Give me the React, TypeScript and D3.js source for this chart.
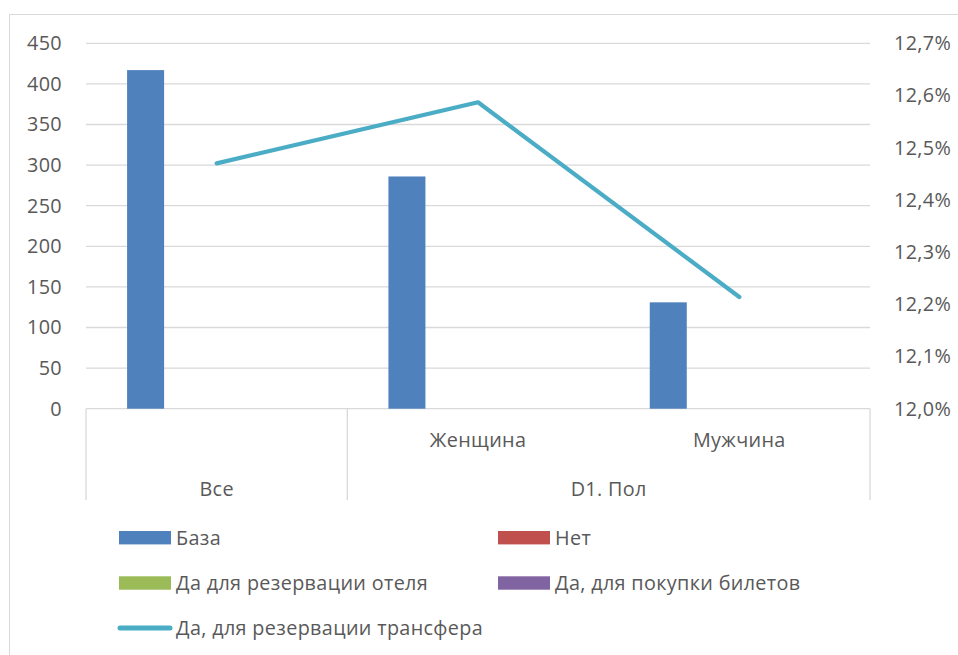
import React from "react";
import * as d3 from "d3";

const categories = ["Все", "Женщина", "Мужчина"];
const groupLabels = ["Все", "D1. Пол"];
const groupSpans = [1, 2];
const subLabels = ["", "Женщина", "Мужчина"];
const baseValues = [417, 286, 131];
const transferValues = [0.1247, 0.12587, 0.12214];
const leftTicks = [0, 50, 100, 150, 200, 250, 300, 350, 400, 450];
const rightTicks = [0.12, 0.121, 0.122, 0.123, 0.124, 0.125, 0.126, 0.127];
const barSeries = ["База", "Нет", "Да для резервации отеля", "Да, для покупки билетов", "slot5"];
const legendItems = [
  { name: "База", color: "#4F81BD", type: "bar" },
  { name: "Нет", color: "#C0504D", type: "bar" },
  { name: "Да для резервации отеля", color: "#9BBB59", type: "bar" },
  { name: "Да, для покупки билетов", color: "#8064A2", type: "bar" },
  { name: "Да, для резервации трансфера", color: "#4BACC6", type: "line" },
];

const W = 958;
const H = 655;
const m = { left: 86, right: 870, top: 43.3, bottom: 408.7 };
const FONT = "'Open Sans', Lato, sans-serif";
const TXT = "#595959";
const FS = 19.8;
const LS = 0.35;

export default function App() {
  const x = d3.scaleBand<string>().domain(categories).range([m.left, m.right]).padding(0);
  const bw = x.bandwidth();
  const slotW = bw / 7.06;
  const sub = d3
    .scaleBand<string>()
    .domain(barSeries)
    .range([bw / 2 - 2.42 * slotW, bw / 2 + 2.58 * slotW])
    .padding(0);
  const yL = d3.scaleLinear().domain([0, 450]).range([m.bottom, m.top]);
  const yR = d3.scaleLinear().domain([0.12, 0.127]).range([m.bottom, m.top]);
  const fmtR = (v: number) => (v * 100).toFixed(1).replace(".", ",") + "%";

  const line = d3
    .line<number>()
    .x((_, i) => (x(categories[i]) as number) + bw / 2)
    .y((d) => yR(d));

  const seps: number[] = [m.left];
  let acc = 0;
  groupSpans.forEach((s) => {
    acc += s;
    seps.push(m.left + acc * bw);
  });
  const groupCenters: number[] = [];
  acc = 0;
  groupSpans.forEach((s) => {
    groupCenters.push(m.left + (acc + s / 2) * bw);
    acc += s;
  });

  const legendPos = [
    { x: 119, y: 537.7 },
    { x: 498, y: 537.7 },
    { x: 119, y: 583 },
    { x: 498, y: 583 },
    { x: 119, y: 628 },
  ];

  return (
    <svg width={W} height={H} style={{ position: "absolute", left: 0, top: 0, fontFamily: FONT, letterSpacing: LS }}>
      <rect x={9.5} y={14.5} width={W} height={H} fill="#fff" stroke="#D9D9D9" strokeWidth={1} />
      {leftTicks.map((t) => (
        <line key={"g" + t} x1={m.left} x2={m.right} y1={yL(t)} y2={yL(t)} stroke="#D9D9D9" strokeWidth={1.3} />
      ))}
      {leftTicks.map((t) => (
        <text key={"l" + t} x={62} y={yL(t)} dy="0.35em" textAnchor="end" fontSize={FS} fill={TXT}>
          {t}
        </text>
      ))}
      {rightTicks.map((t) => (
        <text key={"r" + t} x={894} y={yR(t)} dy="0.35em" textAnchor="start" fontSize={FS} fill={TXT}>
          {fmtR(t)}
        </text>
      ))}
      {baseValues.map((v, i) => (
        <rect
          key={"b" + i}
          x={(x(categories[i]) as number) + (sub("База") as number)}
          width={sub.bandwidth()}
          y={yL(v)}
          height={yL(0) - yL(v)}
          fill="#4F81BD"
        />
      ))}
      <path d={line(transferValues) || ""} fill="none" stroke="#4BACC6" strokeWidth={4.2} strokeLinecap="round" strokeLinejoin="round" />
      {seps.map((s, i) => (
        <line key={"s" + i} x1={s} x2={s} y1={m.bottom} y2={500} stroke="#D9D9D9" strokeWidth={1.3} />
      ))}
      {subLabels.map((l, i) => (
        <text key={"c" + i} x={(x(categories[i]) as number) + bw / 2} y={440} dy="0.35em" textAnchor="middle" fontSize={FS} fill={TXT}>
          {l}
        </text>
      ))}
      {groupLabels.map((l, i) => (
        <text key={"gl" + i} x={groupCenters[i]} y={489} dy="0.35em" textAnchor="middle" fontSize={FS} fill={TXT}>
          {l}
        </text>
      ))}
      {legendItems.map((it, i) => {
        const p = legendPos[i];
        return (
          <g key={"lg" + i}>
            {it.type === "bar" ? (
              <rect x={p.x} y={p.y - 6.7} width={52} height={13.4} fill={it.color} />
            ) : (
              <line x1={p.x + 1} x2={p.x + 51} y1={p.y} y2={p.y} stroke={it.color} strokeWidth={5} strokeLinecap="round" />
            )}
            <text x={p.x + 57} y={p.y} dy="0.35em" fontSize={FS} fill={TXT}>
              {it.name}
            </text>
          </g>
        );
      })}
    </svg>
  );
}
